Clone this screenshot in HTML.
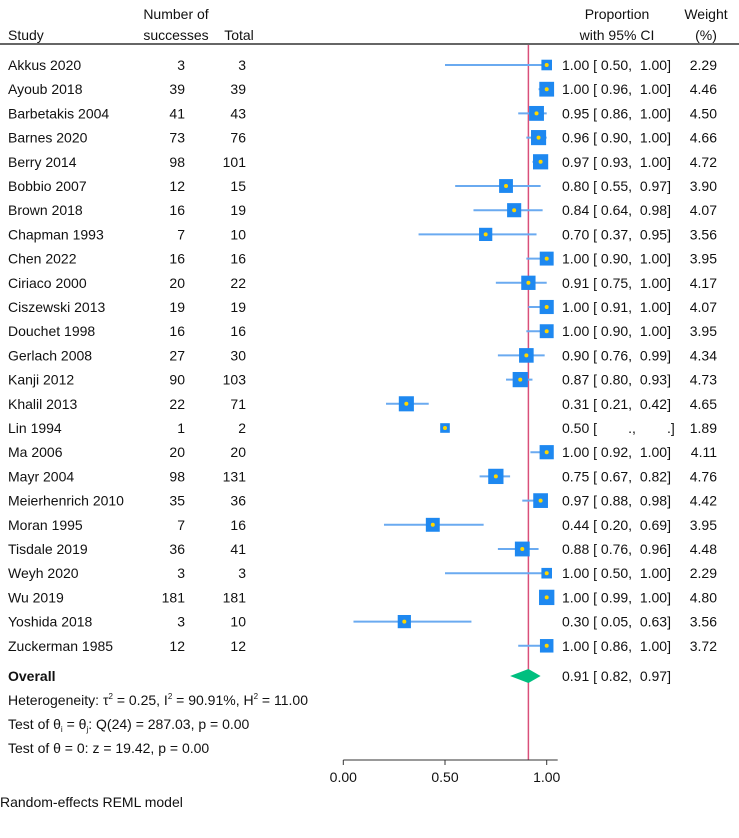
<!DOCTYPE html>
<html><head><meta charset="utf-8"><style>
body{margin:0;background:#fff;}
svg text{font-family:"Liberation Sans",Arial,sans-serif;font-size:14px;fill:#111;white-space:pre;}
</style></head><body>
<svg id="chart" width="739" height="833" xmlns="http://www.w3.org/2000/svg">
<g id="bg"></g>
<g>
<text x="8" y="40">Study</text>
<text x="176" y="19" text-anchor="middle">Number of</text>
<text x="176" y="40" text-anchor="middle">successes</text>
<text x="239" y="40" text-anchor="middle">Total</text>
<text x="617" y="19" text-anchor="middle">Proportion</text>
<text x="617" y="40" text-anchor="middle">with 95% CI</text>
<text x="706" y="19" text-anchor="middle">Weight</text>
<text x="706" y="40" text-anchor="middle">(%)</text>
<line x1="0" y1="44" x2="739" y2="44" stroke="#666" stroke-width="2"/>
</g>
<g id="rows"></g>
<g id="axis"></g>
<g>
<text x="8" y="681" font-weight="bold">Overall</text>
<text x="8" y="705">Heterogeneity: τ<tspan dy="-6" font-size="8">2</tspan><tspan dy="6"> = 0.25, I</tspan><tspan dy="-6" font-size="8">2</tspan><tspan dy="6"> = 90.91%, H</tspan><tspan dy="-6" font-size="8">2</tspan><tspan dy="6"> = 11.00</tspan></text>
<text x="8" y="729">Test of θ<tspan dy="3" font-size="8">i</tspan><tspan dy="-3"> = θ</tspan><tspan dy="3" font-size="8">j</tspan><tspan dy="-3">: Q(24) = 287.03, p = 0.00</tspan></text>
<text x="8" y="753">Test of θ = 0: z = 19.42, p = 0.00</text>
<text x="0" y="807">Random-effects REML model</text>
<text x="562" y="681">0.91 [ 0.82,  0.97]</text>
</g>
</svg>
<script>
const studies=["Akkus 2020","Ayoub 2018","Barbetakis 2004","Barnes 2020","Berry 2014","Bobbio 2007","Brown 2018","Chapman 1993","Chen 2022","Ciriaco 2000","Ciszewski 2013","Douchet 1998","Gerlach 2008","Kanji 2012","Khalil 2013","Lin 1994","Ma 2006","Mayr 2004","Meierhenrich 2010","Moran 1995","Tisdale 2019","Weyh 2020","Wu 2019","Yoshida 2018","Zuckerman 1985"];
const successes=[3,39,41,73,98,12,16,7,16,20,19,16,27,90,22,1,20,98,35,7,36,3,181,3,12];
const totals=[3,39,43,76,101,15,19,10,16,22,19,16,30,103,71,2,20,131,36,16,41,3,181,10,12];
const estimates=[1.00,1.00,0.95,0.96,0.97,0.80,0.84,0.70,1.00,0.91,1.00,1.00,0.90,0.87,0.31,0.50,1.00,0.75,0.97,0.44,0.88,1.00,1.00,0.30,1.00];
const lowers=[0.50,0.96,0.86,0.90,0.93,0.55,0.64,0.37,0.90,0.75,0.91,0.90,0.76,0.80,0.21,null,0.92,0.67,0.88,0.20,0.76,0.50,0.99,0.05,0.86];
const uppers=[1.00,1.00,1.00,1.00,1.00,0.97,0.98,0.95,1.00,1.00,1.00,1.00,0.99,0.93,0.42,null,1.00,0.82,0.98,0.69,0.96,1.00,1.00,0.63,1.00];
const weights=[2.29,4.46,4.50,4.66,4.72,3.90,4.07,3.56,3.95,4.17,4.07,3.95,4.34,4.73,4.65,1.89,4.11,4.76,4.42,3.95,4.48,2.29,4.80,3.56,3.72];
const overall=[0.91,0.82,0.97];
const ticks=[0,0.5,1];
const tickLabels=["0.00","0.50","1.00"];

const NS="http://www.w3.org/2000/svg";
const X=v=>343.3+v*203.4;
const Y=i=>65+i*24.2;
function mk(tag,attrs,parent,txt){const e=document.createElementNS(NS,tag);for(const k in attrs)e.setAttribute(k,attrs[k]);if(txt!=null)e.textContent=txt;parent.appendChild(e);return e;}
const rows=document.getElementById('rows');
const bg=document.getElementById('bg');
const svg=document.getElementById('chart');
const f=v=>v.toFixed(2);
const ref=mk('line',{x1:X(overall[0]),x2:X(overall[0]),y1:44,y2:760,stroke:'#d9507a','stroke-width':1.5},bg);


studies.forEach((s,i)=>{
  const y=Y(i);
  const g=mk('g',{},rows);
  
  
  const t1=mk('text',{x:8,y:y+5},g,s);
  
  
  const t2=mk('text',{x:185,y:y+5,'text-anchor':'end'},g,successes[i]);
  
  
  const t3=mk('text',{x:246,y:y+5,'text-anchor':'end'},g,totals[i]);
  
  
  if(lowers[i]!=null){
    const l=mk('line',{x1:X(lowers[i]),x2:X(uppers[i]),y1:y,y2:y,stroke:'#6aaaf0','stroke-width':2},g);
    
    
  }
  const sz=7*Math.sqrt(weights[i]);
  const r=mk('rect',{x:X(estimates[i])-sz/2,y:y-sz/2,width:sz,height:sz,fill:'#1e88f0'},g);
  
  
  const c=mk('circle',{cx:X(estimates[i]),cy:y,r:2,fill:'#ffd700'},g);
  
  
  const ci=lowers[i]!=null?`${f(estimates[i])} [ ${f(lowers[i])},  ${f(uppers[i])}]`:`${f(estimates[i])} [        .,        .]`;
  const t4=mk('text',{x:562,y:y+5},g,ci);
  
  
  const t5=mk('text',{x:717,y:y+5,'text-anchor':'end'},g,f(weights[i]));
  
  
});
const oy=676;
const d=mk('polygon',{points:`${X(overall[1])},${oy} ${X(overall[0])},${oy-7} ${X(overall[2])},${oy} ${X(overall[0])},${oy+7}`,fill:'#00bf7f'},svg);


const ax=document.getElementById('axis');
const al=mk('line',{x1:X(0),x2:557.7,y1:760,y2:760,stroke:'#333','stroke-width':1},ax);


ticks.forEach((t,i)=>{
  const tk=mk('line',{x1:X(t),x2:X(t),y1:760,y2:765,stroke:'#333','stroke-width':1},ax);
  
  
  const tl=mk('text',{x:X(t),y:782,'text-anchor':'middle'},ax,tickLabels[i]);
  
  
});
</script>
</body></html>
